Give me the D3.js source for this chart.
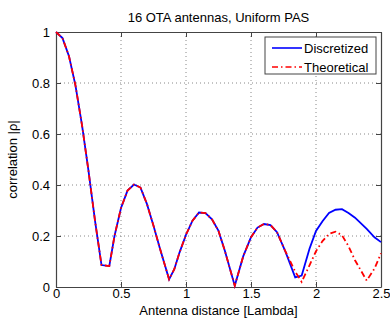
<!DOCTYPE html>
<html>
<head>
<meta charset="utf-8">
<script src="https://cdn.jsdelivr.net/npm/d3@7"></script>
<style>
  body { margin: 0; background: #fff; }
  svg text { font-family: "Liberation Sans", Arial, sans-serif; fill: #000; }
</style>
</head>
<body>
<svg id="chart" width="390" height="320"></svg>
<script>
// antenna distance in wavelengths
var distance = [0, 0.05, 0.1, 0.15, 0.2, 0.25, 0.3, 0.35, 0.41, 0.45, 0.5, 0.55, 0.6, 0.65, 0.7, 0.75, 0.8, 0.87, 0.91, 0.95,
    1.0, 1.05, 1.1, 1.15, 1.2, 1.25, 1.3, 1.375, 1.44, 1.5, 1.55, 1.6, 1.65, 1.7, 1.76, 1.84, 1.89, 1.95,
    2.0, 2.05, 2.1, 2.15, 2.2, 2.25, 2.3, 2.39, 2.45, 2.5];

var discretized = [1.0, 0.976, 0.905, 0.79, 0.635, 0.455, 0.26, 0.086, 0.082, 0.2, 0.31, 0.378, 0.402, 0.39, 0.325, 0.24, 0.15, 0.03, 0.07, 0.135,
    0.205, 0.26, 0.292, 0.29, 0.265, 0.22, 0.14, 0.005, 0.12, 0.195, 0.233, 0.247, 0.243, 0.215, 0.145, 0.038, 0.045, 0.15,
    0.22, 0.258, 0.29, 0.303, 0.305, 0.29, 0.272, 0.228, 0.195, 0.176];

var theoretical = [1.0, 0.976, 0.905, 0.79, 0.635, 0.455, 0.26, 0.086, 0.082, 0.2, 0.31, 0.378, 0.402, 0.39, 0.325, 0.24, 0.15, 0.03, 0.07, 0.135,
    0.205, 0.26, 0.292, 0.29, 0.265, 0.22, 0.14, 0.005, 0.12, 0.195, 0.233, 0.247, 0.243, 0.215, 0.145, 0.06, 0.02, 0.085,
    0.14, 0.18, 0.208, 0.217, 0.203, 0.16, 0.105, 0.025, 0.072, 0.132];

var xTicks = [0, 0.5, 1, 1.5, 2, 2.5];
var yTicks = [0, 0.2, 0.4, 0.6, 0.8, 1];
var seriesNames = ["Discretized", "Theoretical"];

var margin = {top: 32, left: 56, right: 9, bottom: 33};
var width = 390 - margin.left - margin.right;
var height = 320 - margin.top - margin.bottom;

var svg = d3.select("#chart");
var g = svg.append("g").attr("transform", "translate(" + margin.left + "," + margin.top + ")");

var x = d3.scaleLinear().domain([0, 2.5]).range([0, width]);
var y = d3.scaleLinear().domain([0, 1]).range([height, 0]);

// grid
g.selectAll("line.gx").data(xTicks.slice(1, -1)).enter().append("line")
    .attr("x1", function(d){return x(d);})
    .attr("x2", function(d){return x(d);})
    .attr("y1", 0).attr("y2", height)
    .attr("stroke", "#888").attr("stroke-width", 1)
    .attr("stroke-dasharray", "1,3");

g.selectAll("line.gy").data(yTicks.slice(1, -1)).enter().append("line")
    .attr("x1", 0).attr("x2", width)
    .attr("y1", function(d){return y(d);})
    .attr("y2", function(d){return y(d);})
    .attr("stroke", "#888").attr("stroke-width", 1)
    .attr("stroke-dasharray", "1,3");

// axes with inward ticks, labels only bottom/left
var fmt = function(d){return String(d);};
var xAxis = g.append("g").attr("transform", "translate(0," + height + ")")
    .call(d3.axisBottom(x).tickValues(xTicks).tickFormat(fmt).tickSizeInner(-5).tickSizeOuter(0).tickPadding(3));
var yAxis = g.append("g")
    .call(d3.axisLeft(y).tickValues(yTicks).tickFormat(fmt).tickSizeInner(-5).tickSizeOuter(0).tickPadding(6));
var xTop = g.append("g")
    .call(d3.axisTop(x).tickValues(xTicks).tickFormat("").tickSizeInner(-5).tickSizeOuter(0));
var yRight = g.append("g").attr("transform", "translate(" + width + ",0)")
    .call(d3.axisRight(y).tickValues(yTicks).tickFormat("").tickSizeInner(-5).tickSizeOuter(0));

[xAxis, yAxis, xTop, yRight].forEach(function(a){
    a.selectAll("path").attr("stroke", "#444").attr("stroke-width", 1.2);
    a.selectAll("line").attr("stroke", "#444");
    a.selectAll("text").style("font-size", "13px").attr("fill", "#000");
});
xAxis.selectAll("text").attr("dy", "0.6em");

// lines: blue solid underneath, red dash-dot on top
var line = d3.line()
    .x(function(d){return x(d[0]);})
    .y(function(d){return y(d[1]);});

g.append("path")
    .datum(d3.zip(distance, discretized))
    .attr("d", line)
    .attr("fill", "none")
    .attr("stroke", "#0000ff")
    .attr("stroke-width", 1.8);

g.append("path")
    .datum(d3.zip(distance, theoretical))
    .attr("d", line)
    .attr("fill", "none")
    .attr("stroke", "#ff0000")
    .attr("stroke-width", 1.8)
    .attr("stroke-dasharray", "6,3,1.5,3");

// titles
svg.append("text")
    .attr("x", margin.left + width / 2)
    .attr("y", 22)
    .attr("text-anchor", "middle")
    .style("font-size", "13px")
    .text("16 OTA antennas, Uniform PAS");

svg.append("text")
    .attr("x", margin.left + width / 2)
    .attr("y", 315)
    .attr("text-anchor", "middle")
    .style("font-size", "13px")
    .text("Antenna distance [Lambda]");

svg.append("text")
    .attr("transform", "translate(17," + (margin.top + height / 2) + ") rotate(-90)")
    .attr("text-anchor", "middle")
    .style("font-size", "13px")
    .text("correlation |ρ|");

// legend
var legend = svg.append("g").attr("transform", "translate(265,37)");
legend.append("rect")
    .attr("width", 111).attr("height", 37)
    .attr("fill", "#fff").attr("stroke", "#444").attr("stroke-width", 1);

var legendStyles = [
    {color: "#0000ff", dash: null},
    {color: "#ff0000", dash: "6,3,1.5,3"}
];
seriesNames.forEach(function(name, i){
    var row = legend.append("g").attr("transform", "translate(0," + (11 + i * 19) + ")");
    row.append("line")
        .attr("x1", 7).attr("x2", 37)
        .attr("stroke", legendStyles[i].color)
        .attr("stroke-width", 1.6)
        .attr("stroke-dasharray", legendStyles[i].dash);
    row.append("text")
        .attr("x", 39).attr("y", 4.5)
        .style("font-size", "13px")
        .text(name);
});
</script>
</body>
</html>
